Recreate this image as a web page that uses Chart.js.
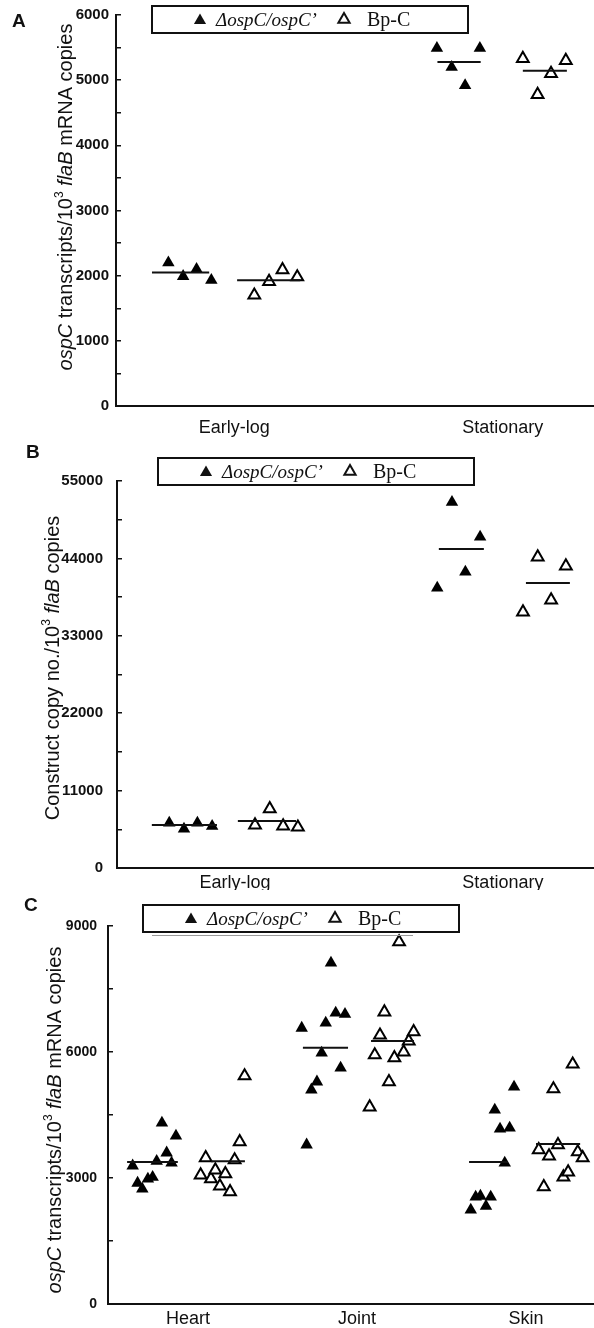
<!DOCTYPE html>
<html lang="en">
<head>
<meta charset="UTF-8">
<title>ospC expression in ΔospC/ospC' and Bp-C</title>
<script src="https://cdn.jsdelivr.net/npm/chart.js@4.4.0/dist/chart.umd.min.js"></script>
<style>
    body {
        margin: 0;
        background: #ffffff;
    }
    canvas {
        display: block;
    }
</style>
</head>
<body>

<canvas id="chartA" width="594" height="440"></canvas>
<canvas id="chartB" width="594" height="450"></canvas>
<canvas id="chartC" width="594" height="438"></canvas>

<script>
// ---------- data ----------
const growthPhases = ['Early-log', 'Stationary'];
const tissues = ['Heart', 'Joint', 'Skin'];
const mutantName = 'ΔospC/ospC’';
const bpcName = 'Bp-C';

// panel A: ospC transcripts / 10^3 flaB mRNA copies
const aMutant = [[2200, 1990, 2100, 1930], [5490, 5200, 4920, 5490]];
const aBpC = [[1700, 1910, 2090, 1980], [5330, 4780, 5100, 5300]];
const aMutantMean = [2050, 5280];
const aBpCMean = [1930, 5145];
const aTickLabels = [0, 1000, 2000, 3000, 4000, 5000, 6000];

// panel B: construct copy no. / 10^3 flaB copies
const bMutant = [[6400, 5550, 6400, 5950], [39800, 52000, 42070, 47040]];
const bBpC = [[6100, 8400, 5950, 5800], [36380, 44200, 38090, 42920]];
const bMutantMean = [6100, 45330];
const bBpCMean = [6680, 40500];
const bTickLabels = [0, 11000, 22000, 33000, 44000, 55000];

// panel C: ospC transcripts / 10^3 flaB mRNA copies in tissues
const cMutant = [
    [3290, 2880, 2740, 2980, 3020, 3400, 4310, 3600, 3360, 4000],
    [6570, 3790, 5100, 5290, 5980, 6690, 8120, 6930, 5620, 6900],
    [2240, 2550, 2570, 2330, 2550, 4620, 4170, 3360, 4190, 5170]
];
const cBpC = [
    [3070, 3480, 2980, 3190, 2810, 3100, 2670, 3430, 3860, 5430],
    [4690, 5930, 6400, 6950, 5290, 5860, 8620, 6000, 6260, 6480],
    [3670, 2790, 3520, 5120, 3790, 3020, 3140, 5710, 3620, 3480]
];
const cMutantMean = [3380, 6100, 3380];
const cBpCMean = [3400, 6260, 3810];
const cTickLabels = [0, 3000, 6000, 9000];

// horizontal spread of the points around each category (category units)
const pairJitterMutant = [-0.245, -0.19, -0.14, -0.085];
const pairJitterBpC = [0.075, 0.13, 0.18, 0.235];
const tissueJitterMutant = [-0.327, -0.298, -0.27, -0.237, -0.209, -0.185, -0.154, -0.126, -0.097, -0.071];
const tissueJitterBpC = [0.075, 0.105, 0.136, 0.162, 0.189, 0.221, 0.249, 0.276, 0.306, 0.335];

// extent of the mean bars (category units)
const aMutantBar = [[-0.306, -0.093], [-0.243, -0.082]];
const aBpCBar = [[0.011, 0.246], [0.075, 0.239]];
const bMutantBar = [[-0.31, -0.067], [-0.239, -0.071]];
const bBpCBar = [[0.011, 0.228], [0.086, 0.25]];
const cMutantBar = [[-0.36, -0.06], [-0.32, -0.053], [-0.337, -0.107]];
const cBpCBar = [[0.136, 0.337], [0.083, 0.337], [0.059, 0.32]];

// ---------- drawing ----------
const INK = '#111111';
const SANS = '"Liberation Sans", Arial, Helvetica, sans-serif';
const SERIF = '"Liberation Serif", "Times New Roman", serif';

const ospcTitle = [['ospC', 'i'], [' transcripts/10', ''], ['3', 'sup'], [' ', ''], ['flaB', 'i'], [' mRNA copies', '']];
const constructTitle = [['Construct copy no./10', ''], ['3', 'sup'], [' ', ''], ['flaB', 'i'], [' copies', '']];

function triangle(ctx, x, y, r, filled) {
    ctx.beginPath();
    ctx.moveTo(x, y - r);
    ctx.lineTo(x + r * 0.866, y + r * 0.5);
    ctx.lineTo(x - r * 0.866, y + r * 0.5);
    ctx.closePath();
    if (filled) {
        ctx.fill();
    } else {
        ctx.lineWidth = 2;
        ctx.stroke();
    }
}

function titleFont(kind, size) {
    if (kind === 'i') return 'italic ' + size + 'px ' + SANS;
    if (kind === 'sup') return Math.round(size * 0.62) + 'px ' + SANS;
    return size + 'px ' + SANS;
}

const panelDecor = {
    id: 'panelDecor',
    afterDraw(chart, args, o) {
        const ctx = chart.ctx;
        ctx.save();
        ctx.fillStyle = INK;
        ctx.strokeStyle = INK;

        // panel letter
        ctx.font = 'bold 19px ' + SANS;
        ctx.textAlign = 'left';
        ctx.textBaseline = 'alphabetic';
        ctx.fillText(o.letter, o.letterX, o.letterY);

        // rotated y title with italic gene names
        ctx.save();
        ctx.translate(o.titleX, o.titleY);
        ctx.rotate(-Math.PI / 2);
        let total = 0;
        o.title.forEach(p => { ctx.font = titleFont(p[1], o.titleSize); total += ctx.measureText(p[0]).width; });
        let x = -total / 2;
        ctx.textBaseline = 'middle';
        o.title.forEach(p => {
            ctx.font = titleFont(p[1], o.titleSize);
            const dy = p[1] === 'sup' ? -o.titleSize * 0.3 : 0;
            ctx.fillText(p[0], x, dy);
            x += ctx.measureText(p[0]).width;
        });
        ctx.restore();

        // legend box
        const lx = o.legendX, ly = o.legendY, lw = 316, lh = 27;
        ctx.fillStyle = '#ffffff';
        ctx.fillRect(lx, ly, lw, lh);
        ctx.fillStyle = INK;
        ctx.lineWidth = 2;
        ctx.strokeRect(lx, ly, lw, lh);
        if (o.shadow) {
            ctx.strokeStyle = '#9a9a9a';
            ctx.lineWidth = 1;
            ctx.beginPath();
            ctx.moveTo(lx + 9, ly + lh + 3.5);
            ctx.lineTo(lx + 270, ly + lh + 3.5);
            ctx.stroke();
            ctx.strokeStyle = INK;
        }
        const my = ly + lh / 2;
        triangle(ctx, lx + 48, my + 1, 7, true);
        triangle(ctx, lx + 192, my, 6.5, false);
        ctx.textBaseline = 'middle';
        ctx.font = 'italic 19px ' + SERIF;
        ctx.fillText(mutantName, lx + 64, my + 1);
        ctx.font = '20px ' + SERIF;
        ctx.fillText(bpcName, lx + 215, my + 1);
        ctx.restore();
    }
};

function noPadding(s) {
    s.paddingLeft = 0;
    s.paddingRight = 0;
    s.paddingTop = 0;
    s.paddingBottom = 0;
}

function buildPanel(id, p) {
    const datasets = [];
    p.cats.forEach((c, i) => {
        datasets.push({
            data: p.mutantBar[i].map(x => ({ x: i + x, y: p.mutantMean[i] })),
            showLine: true, borderColor: INK, borderWidth: 2, pointRadius: 0
        });
        datasets.push({
            data: p.bpcBar[i].map(x => ({ x: i + x, y: p.bpcMean[i] })),
            showLine: true, borderColor: INK, borderWidth: 2, pointRadius: 0
        });
    });
    datasets.push({
        label: mutantName,
        data: p.cats.flatMap((c, i) => p.mutant[i].map((v, j) => ({ x: i + p.jitterMutant[j], y: v }))),
        pointStyle: 'triangle', pointRadius: 7.2,
        backgroundColor: '#000000', borderColor: '#000000', borderWidth: 0
    });
    datasets.push({
        label: bpcName,
        data: p.cats.flatMap((c, i) => p.bpc[i].map((v, j) => ({ x: i + p.jitterBpC[j], y: v }))),
        pointStyle: 'triangle', pointRadius: 6.8,
        backgroundColor: '#ffffff', borderColor: '#000000', borderWidth: 2
    });

    return new Chart(document.getElementById(id), {
        type: 'scatter',
        data: { datasets: datasets },
        options: {
            responsive: false,
            animation: false,
            devicePixelRatio: 1,
            layout: { autoPadding: false, padding: { top: p.top, left: 0, right: 0, bottom: 0 } },
            plugins: {
                legend: { display: false },
                tooltip: { enabled: false },
                panelDecor: p.decor
            },
            scales: {
                x: {
                    type: 'linear',
                    min: p.xMin,
                    max: p.xMax,
                    afterBuildTicks: s => { s.ticks = p.cats.map((c, i) => ({ value: i })); },
                    afterFit: s => { s.height = p.xHeight; noPadding(s); },
                    ticks: {
                        callback: v => p.cats[v],
                        color: INK,
                        font: { family: SANS, size: 18 },
                        padding: p.xPad,
                        maxRotation: 0
                    },
                    grid: { display: false, drawTicks: false },
                    border: { display: true, color: INK, width: 2 }
                },
                y: {
                    min: 0,
                    max: p.yMax,
                    afterFit: s => { s.width = p.axisX; noPadding(s); },
                    ticks: {
                        stepSize: p.yStep,
                        callback: v => p.tickLabels.includes(v) ? String(v) : '',
                        color: INK,
                        font: { family: SANS, size: p.tickSize, weight: 'bold' },
                        padding: p.yPad
                    },
                    grid: { drawOnChartArea: false, drawTicks: true, tickLength: -5, color: INK, lineWidth: 1.5 },
                    border: { display: true, color: INK, width: 2 }
                }
            }
        },
        plugins: [panelDecor]
    });
}

buildPanel('chartA', {
    cats: growthPhases, mutant: aMutant, bpc: aBpC, mutantMean: aMutantMean, bpcMean: aBpCMean,
    mutantBar: aMutantBar, bpcBar: aBpCBar, jitterMutant: pairJitterMutant, jitterBpC: pairJitterBpC,
    tickLabels: aTickLabels, yMax: 6000, yStep: 500,
    xMin: -0.44, xMax: 1.34, top: 15, xHeight: 34, axisX: 116, xPad: 11, yPad: 12, tickSize: 15,
    decor: { letter: 'A', letterX: 12, letterY: 27, title: ospcTitle, titleX: 66, titleY: 197, titleSize: 20,
             legendX: 152, legendY: 6, shadow: false }
});

buildPanel('chartB', {
    cats: growthPhases, mutant: bMutant, bpc: bBpC, mutantMean: bMutantMean, bpcMean: bBpCMean,
    mutantBar: bMutantBar, bpcBar: bBpCBar, jitterMutant: pairJitterMutant, jitterBpC: pairJitterBpC,
    tickLabels: bTickLabels, yMax: 55000, yStep: 5500,
    xMin: -0.44, xMax: 1.34, top: 41, xHeight: 22, axisX: 117, xPad: 4, yPad: 19, tickSize: 15,
    decor: { letter: 'B', letterX: 26, letterY: 18, title: constructTitle, titleX: 53, titleY: 228, titleSize: 20,
             legendX: 158, legendY: 18, shadow: false }
});

buildPanel('chartC', {
    cats: tissues, mutant: cMutant, bpc: cBpC, mutantMean: cMutantMean, bpcMean: cBpCMean,
    mutantBar: cMutantBar, bpcBar: cBpCBar, jitterMutant: tissueJitterMutant, jitterBpC: tissueJitterBpC,
    tickLabels: cTickLabels, yMax: 9000, yStep: 1500,
    xMin: -0.473, xMax: 2.402, top: 36, xHeight: 24, axisX: 108, xPad: 4, yPad: 16, tickSize: 14,
    decor: { letter: 'C', letterX: 24, letterY: 21, title: ospcTitle, titleX: 55, titleY: 230, titleSize: 20,
             legendX: 143, legendY: 15, shadow: true }
});
</script>
</body>
</html>
